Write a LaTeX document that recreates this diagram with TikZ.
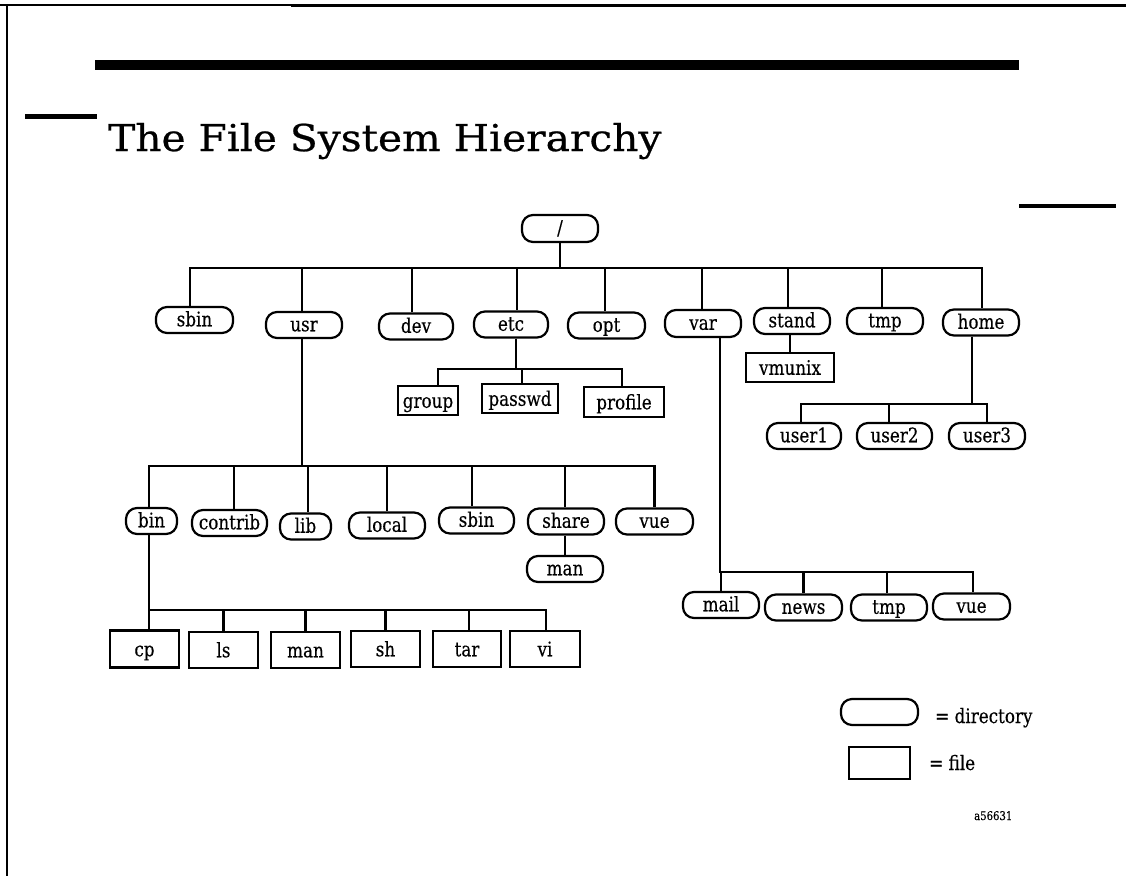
\documentclass[tikz,border=0pt]{standalone}
\usepackage{fontspec}
\setmainfont{DejaVu Serif}[FakeStretch=0.84,FakeBold=0.3]
\newfontfamily\titlefont{DejaVu Serif}[FakeStretch=1.1,FakeBold=0.6]
\begin{document}
\begin{tikzpicture}[x=1pt,y=-1pt,
  wire/.style={line width=2.2pt},
  dir/.style={draw,line width=2.2pt,rounded corners=11pt,inner sep=0pt,
    minimum height=26pt,text height=12.5pt,text depth=0pt,
    font=\fontsize{20}{23}\selectfont},
  fil/.style={draw,line width=2.2pt,inner sep=0pt,
    text height=14.5pt,text depth=0pt,font=\fontsize{20}{23}\selectfont},
  note/.style={inner sep=0pt,anchor=base west,font=\fontsize{20}{23}\selectfont},
]
\useasboundingbox (0,0) rectangle (1126,876);

% page rules
\fill (0,4) rectangle (291,6);
\fill (291,4) rectangle (1126,7.3);
\fill (6.3,4) rectangle (8.3,876);
\fill (95,60) rectangle (1019,70);
\fill (25,114) rectangle (97,119);
\fill (1019,204) rectangle (1116,207.5);

% title
\node[anchor=base west,inner sep=0pt,font=\titlefont\fontsize{37}{40}\selectfont]
  (title) at (108,151) {The File System Hierarchy};

% bus levels
\coordinate (bA) at (0,268);
\coordinate (bB) at (0,369);
\coordinate (bC) at (0,404);
\coordinate (bD) at (0,572);
\coordinate (bE) at (0,466);
\coordinate (bF) at (0,610);

% root and first level
\node[dir,minimum width=76pt,minimum height=27pt] (root) at (560,228.5) {/};
\node[dir,minimum width=77pt] (sbin)  at (194.5,320)   {sbin};
\node[dir,minimum width=76pt] (usr)   at (304,325)     {usr};
\node[dir,minimum width=74pt] (dev)   at (416,326.5)   {dev};
\node[dir,minimum width=74pt] (etc)   at (511,324.5)   {etc};
\node[dir,minimum width=77pt] (opt)   at (606.5,325.5) {opt};
\node[dir,minimum width=76pt,minimum height=27pt] (var) at (703,323.5) {var};
\node[dir,minimum width=76pt] (stand) at (792,321)     {stand};
\node[dir,minimum width=76pt] (tmp)   at (885,321)     {tmp};
\node[dir,minimum width=76pt] (home)  at (981,322.5)   {home};

\foreach \n/\dx in {sbin/-4.5,usr/-2,dev/-4,etc/6,opt/-1.5,var/-1,stand/-4,tmp/-3,home/1}
  \draw[wire] (root.south) -- (root.south |- bA) -| ([xshift=\dx pt]\n.north);

% /etc
\node[fil,minimum width=60pt,minimum height=29pt] (group)   at (428,400.5) {group};
\node[fil,minimum width=76pt,minimum height=29pt] (passwd)  at (520,398.5) {passwd};
\node[fil,minimum width=80pt,minimum height=30pt] (profile) at (624,402)   {profile};
\foreach \n/\dx in {group/10,passwd/2,profile/-2}
  \draw[wire] ([xshift=5pt]etc.south) -- ([xshift=5pt]etc.south |- bB) -| ([xshift=\dx pt]\n.north);

% /stand
\node[fil,minimum width=88pt,minimum height=29pt] (vmunix) at (790,367.5) {vmunix};
\draw[wire] ([xshift=-2pt]stand.south) -- (vmunix.north);

% /home
\node[dir,minimum width=74pt] (user1) at (804,436)   {user1};
\node[dir,minimum width=75pt] (user2) at (894.5,436) {user2};
\node[dir,minimum width=76pt] (user3) at (987,436)   {user3};
\foreach \n/\dx in {user1/-3,user2/-5.5,user3/0}
  \draw[wire] ([xshift=-9pt]home.south) -- ([xshift=-9pt]home.south |- bC) -| ([xshift=\dx pt]\n.north);

% /var
\node[dir,minimum width=76pt] (mail)  at (721,605)     {mail};
\node[dir,minimum width=77pt] (news)  at (803.5,607.5) {news};
\node[dir,minimum width=76pt] (vtmp)  at (889,607.5)   {tmp};
\node[dir,minimum width=77pt] (vvue)  at (971.5,606.5) {vue};
\foreach \n/\dx in {mail/0,news/0,vtmp/-2,vvue/1.5}
  \draw[wire] ([xshift=17pt]var.south) -- ([xshift=17pt]var.south |- bD) -| ([xshift=\dx pt]\n.north);

% /usr
\node[dir,minimum width=51pt] (bin)     at (151.5,521)   {bin};
\node[dir,minimum width=75pt] (contrib) at (229.5,523)   {contrib};
\node[dir,minimum width=51pt] (lib)     at (305.5,526.5) {lib};
\node[dir,minimum width=76pt] (local)   at (387,525.5)   {local};
\node[dir,minimum width=75pt] (usbin)   at (476.5,520.5) {sbin};
\node[dir,minimum width=76pt] (share)   at (566,521.5)   {share};
\node[dir,minimum width=77pt] (uvue)    at (654.5,521.5) {vue};
\foreach \n/\dx in {bin/-2.5,contrib/4.5,lib/2.5,local/0,usbin/-4.5,share/-1,uvue/0}
  \draw[wire] ([xshift=-2pt]usr.south) -- ([xshift=-2pt]usr.south |- bE) -| ([xshift=\dx pt]\n.north);

% /usr/share
\node[dir,minimum width=76pt] (sman) at (565,569) {man};
\draw[wire] ([xshift=-1pt]share.south) -- (sman.north);

% /usr/bin
\node[fil,minimum width=69pt,minimum height=37pt] (cp)   at (144.5,649) {cp};
\node[fil,minimum width=69pt,minimum height=36pt] (ls)   at (223.5,650) {ls};
\node[fil,minimum width=69pt,minimum height=36pt] (bman) at (305.5,650) {man};
\node[fil,minimum width=69pt,minimum height=36pt] (sh)   at (385.5,649) {sh};
\node[fil,minimum width=68pt,minimum height=36pt] (tar)  at (467,649)   {tar};
\node[fil,minimum width=70pt,minimum height=36pt] (vi)   at (545,649)   {vi};
\foreach \n/\dx in {cp/4.5,ls/0,bman/0,sh/0,tar/2,vi/1}
  \draw[wire] ([xshift=-2.5pt]bin.south) -- ([xshift=-2.5pt]bin.south |- bF) -| ([xshift=\dx pt]\n.north);

% legend
\node[dir,minimum width=77pt] (ldir) at (879.5,712) {};
\node[note] (ldirt) at (935,723) {= directory};
\node[fil,minimum width=61pt,minimum height=32pt] (lfil) at (879.5,763) {};
\node[note] (lfilt) at (929,770) {= file};
\node[inner sep=0pt,anchor=base west,font=\fontsize{12}{14}\selectfont] (fig) at (974,820) {a56631};
\end{tikzpicture}
\end{document}
